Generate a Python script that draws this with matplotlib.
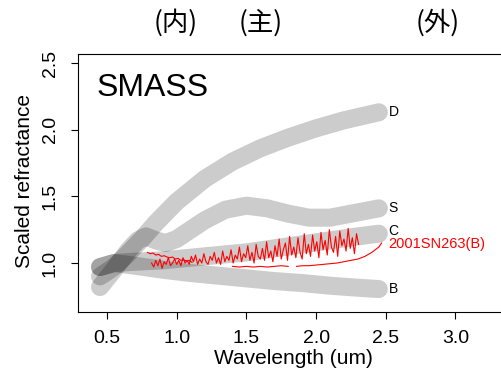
import numpy as np
import matplotlib.pyplot as plt
import matplotlib.transforms as mtransforms

plt.rcParams['font.family'] = ['Liberation Sans', 'DejaVu Sans']

# SMASS class mean spectra (scaled reflectance)
wl_D = [0.45, 0.55, 0.65, 0.75, 0.85, 1.0, 1.2, 1.4, 1.6, 1.8, 2.0, 2.2, 2.45]
rf_D = [0.90, 0.97, 1.07, 1.18, 1.30, 1.46, 1.63, 1.76, 1.86, 1.94, 2.01, 2.07, 2.13]

wl_S = [0.45, 0.55, 0.65, 0.72, 0.78, 0.85, 0.92, 1.0, 1.1, 1.2, 1.35, 1.5, 1.65, 1.8, 1.95, 2.1, 2.25, 2.45]
rf_S = [0.82, 0.95, 1.09, 1.17, 1.20, 1.17, 1.15, 1.18, 1.25, 1.32, 1.40, 1.43, 1.41, 1.37, 1.34, 1.34, 1.37, 1.41]

wl_C = [0.45, 0.55, 0.7, 0.9, 1.1, 1.3, 1.5, 1.7, 1.9, 2.1, 2.3, 2.45]
rf_C = [0.97, 1.00, 1.01, 1.02, 1.04, 1.06, 1.08, 1.11, 1.14, 1.17, 1.20, 1.22]

wl_B = [0.45, 0.55, 0.7, 0.9, 1.1, 1.3, 1.5, 1.7, 1.9, 2.1, 2.3, 2.45]
rf_B = [0.97, 1.00, 0.98, 0.95, 0.925, 0.905, 0.885, 0.865, 0.85, 0.83, 0.815, 0.805]

classes = ['D', 'S', 'C', 'B']
label_y = [2.13, 1.41, 1.24, 0.805]

# 2001SN263 spectrum
vis_wl = [0.79, 0.81, 0.83, 0.85, 0.87, 0.89, 0.91, 0.93, 0.95, 0.97, 0.99,
          1.01, 1.03, 1.05, 1.07, 1.09, 1.11]
vis_rf = [1.08, 1.07, 1.075, 1.06, 1.065, 1.05, 1.055, 1.045, 1.04, 1.045, 1.03,
          1.035, 1.02, 1.025, 1.015, 1.02, 1.005]

nir_rf = [1.00, 0.97, 1.02, 0.98, 1.03, 0.96, 1.01, 0.99, 1.04, 0.98,
          1.00, 1.03, 0.99, 1.02, 0.98, 1.04, 1.00, 1.02, 0.99, 1.05,
          1.01, 1.06, 0.99, 1.03, 1.00, 1.07, 1.01, 0.99, 1.05, 1.02,
          1.08, 1.00, 1.04, 0.99, 1.09, 1.01, 1.05, 1.02, 1.10, 1.00,
          1.06, 1.03, 1.12, 1.01, 1.07, 1.04, 1.13, 1.02, 1.08, 1.00,
          1.14, 1.05, 1.03, 1.11, 1.02, 1.16, 1.04, 1.09, 1.01, 1.13,
          1.05, 1.18, 1.03, 1.10, 1.15, 1.02, 1.20, 1.06, 1.12, 1.04,
          1.19, 1.08, 1.03, 1.22, 1.07, 1.14, 1.05, 1.21, 1.09, 1.16,
          1.04, 1.23, 1.10, 1.17, 1.06, 1.25, 1.12, 1.08, 1.20, 1.05,
          1.24, 1.13, 1.18, 1.09, 1.26, 1.11, 1.19, 1.07, 1.22, 1.14]
nir_wl = np.arange(len(nir_rf)) * 0.015 + 0.82

low_wl = [1.40, 1.45, 1.50, 1.55, 1.60, 1.65, 1.70, 1.75, 1.80, 1.83,
          1.86, 1.90, 1.95, 2.00, 2.05, 2.10, 2.15, 2.20, 2.25, 2.30, 2.35, 2.40, 2.45, 2.47]
low_rf = [0.975, 0.97, 0.975, 0.97, 0.975, 0.97, 0.975, 0.98, 0.975, np.nan,
          0.975, 0.98, 0.98, 0.985, 0.99, 0.995, 1.0, 1.01, 1.02, 1.03, 1.05, 1.08, 1.12, 1.15]

zones = ['(内)', '(主)', '(外)']
zone_x = [0.995, 1.6, 2.87]

fig = plt.figure(figsize=(5.02, 3.73), dpi=100)
ax = fig.add_axes([78/502, 61/373, 447/502, 258/373])

for wl, rf, name, ly in zip([wl_D, wl_S, wl_C, wl_B], [rf_D, rf_S, rf_C, rf_B], classes, label_y):
    ax.plot(wl, rf, color='k', alpha=0.2, lw=13, solid_capstyle='round', solid_joinstyle='round')
    ax.text(2.52, ly, name, fontsize=10, va='center', ha='left')

ax.plot(vis_wl, vis_rf, color='red', lw=0.8)
ax.plot(nir_wl, nir_rf, color='red', lw=0.8)
ax.plot(low_wl, low_rf, color='red', lw=0.8)
ax.text(2.52, 1.14, '2001SN263(B)', fontsize=10.5, color='red', va='center', ha='left')

ax.text(0.428, 2.31, 'SMASS', fontsize=23, va='center', ha='left')

trans = mtransforms.blended_transform_factory(ax.transData, ax.transAxes)
for z, zx in zip(zones, zone_x):
    ax.text(zx, 1.12, z, fontsize=19, ha='center', va='center', transform=trans,
            family=['Noto Sans CJK JP', 'DejaVu Sans'], clip_on=False)

ax.set_xlim(0.292, 0.292 + 447/139.4)
ax.set_ylim(0.633, 2.567)
ax.set_xticks([0.5, 1.0, 1.5, 2.0, 2.5, 3.0])
ax.set_yticks([1.0, 1.5, 2.0, 2.5])
ax.tick_params(direction='out', length=5, width=0.8, labelsize=14)
ax.tick_params(axis='x', pad=8)
ax.tick_params(axis='y', labelrotation=90, pad=9)
for lab in ax.get_yticklabels():
    lab.set_va('center')
for s in ax.spines.values():
    s.set_linewidth(0.8)

fig.text(293/502, 1 - 359/373, 'Wavelength (um)', fontsize=15, ha='center', va='center')
fig.text(25/502, 1 - 181/373, 'Scaled refractance', fontsize=15, ha='center', va='center', rotation=90)

fig.savefig('out.png', dpi=100)
